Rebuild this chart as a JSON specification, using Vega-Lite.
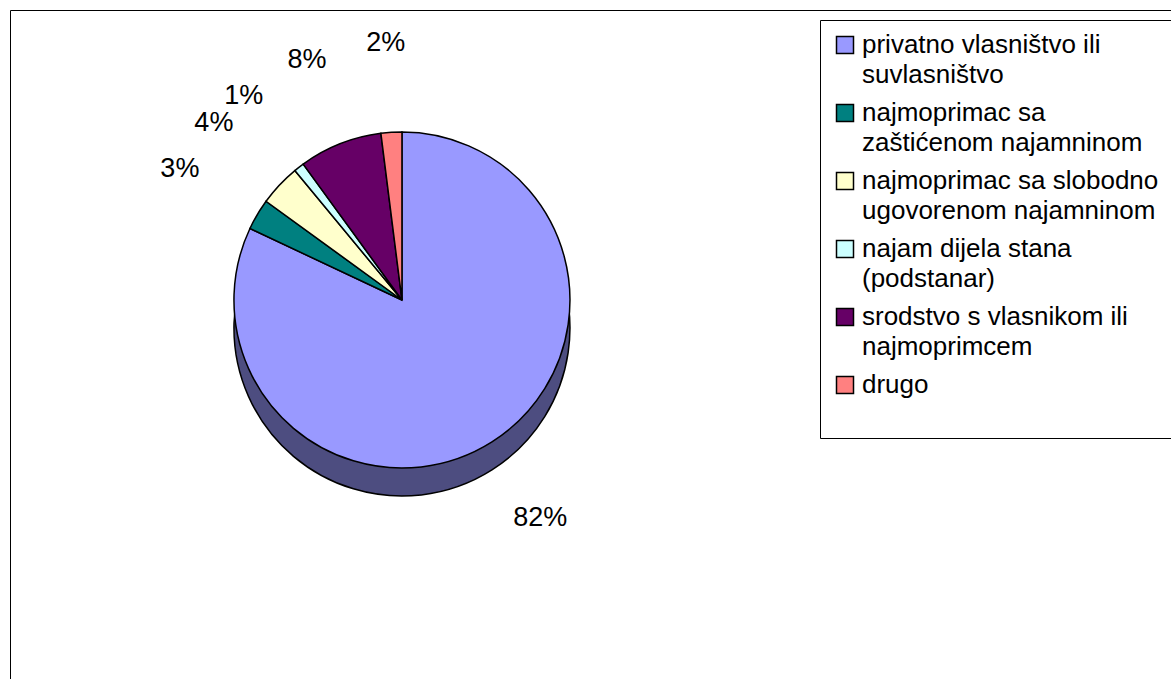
{
  "$schema": "https://vega.github.io/schema/vega-lite/v6.json",
  "width": 1161,
  "height": 669,
  "autosize": {"type": "none"},
  "padding": {"left": 10, "top": 10, "right": 0, "bottom": 0},
  "background": "white",
  "view": {"stroke": "black", "strokeWidth": 1, "fill": "white"},
  "config": {
    "view": {"stroke": "black", "strokeWidth": 1},
    "font": "Liberation Sans",
    "style": {"guide-label": {"lineHeight": 30}}
  },
  "data": {
    "values": [
      {"kategorija": "privatno vlasništvo ili suvlasništvo", "udio": 0.82, "rb": 1},
      {"kategorija": "najmoprimac sa zaštićenom najamninom", "udio": 0.03, "rb": 2},
      {"kategorija": "najmoprimac sa slobodno ugovorenom najamninom", "udio": 0.04, "rb": 3},
      {"kategorija": "najam dijela stana (podstanar)", "udio": 0.01, "rb": 4},
      {"kategorija": "srodstvo s vlasnikom ili najmoprimcem", "udio": 0.08, "rb": 5},
      {"kategorija": "drugo", "udio": 0.02, "rb": 6}
    ]
  },
  "encoding": {
    "theta": {"field": "udio", "type": "quantitative", "stack": true},
    "order": {"field": "rb", "type": "quantitative"}
  },
  "layer": [
    {
      "mark": {"type": "arc", "outerRadius": 168, "fill": "#4D4D80", "stroke": "black", "strokeWidth": 1.5,
               "x": {"expr": "width * 0.3376"}, "y": {"expr": "height * 0.4335 + 28"}}
    },
    {
      "mark": {"type": "arc", "outerRadius": 168, "stroke": "black", "strokeWidth": 1.5, "opacity": 1,
               "x": {"expr": "width * 0.3376"}, "y": {"expr": "height * 0.4335"}},
      "encoding": {
        "color": {
          "field": "kategorija",
          "type": "nominal",
          "sort": null,
          "scale": {
            "domain": [
              "privatno vlasništvo ili suvlasništvo",
              "najmoprimac sa zaštićenom najamninom",
              "najmoprimac sa slobodno ugovorenom najamninom",
              "najam dijela stana (podstanar)",
              "srodstvo s vlasnikom ili najmoprimcem",
              "drugo"
            ],
            "range": ["#9999FF", "#008080", "#FFFFCC", "#CCFFFF", "#660066", "#FF8080"]
          },
          "legend": {
            "title": " ",
            "titleOrient": "bottom",
            "titleFontSize": 20,
            "titlePadding": 8,
            "orient": "none",
            "legendX": 810,
            "legendY": 10,
            "strokeColor": "black",
            "fillColor": "white",
            "padding": 12,
            "symbolType": "square",
            "symbolSize": 289,
            "symbolStrokeColor": "black",
            "symbolStrokeWidth": 1.5,
            "symbolOpacity": 1,
            "labelFont": "Liberation Sans",
            "labelFontSize": 26,
            "labelColor": "black",
            "labelLimit": 0,
            "labelOffset": 4,
            "rowPadding": 12,
            "labelExpr": "datum.label == 'privatno vlasništvo ili suvlasništvo' ? ['privatno vlasništvo ili', 'suvlasništvo'] : datum.label == 'najmoprimac sa zaštićenom najamninom' ? ['najmoprimac sa', 'zaštićenom najamninom'] : datum.label == 'najmoprimac sa slobodno ugovorenom najamninom' ? ['najmoprimac sa slobodno', 'ugovorenom najamninom'] : datum.label == 'najam dijela stana (podstanar)' ? ['najam dijela stana', '(podstanar)'] : datum.label == 'srodstvo s vlasnikom ili najmoprimcem' ? ['srodstvo s vlasnikom ili', 'najmoprimcem'] : datum.label"
          }
        }
      }
    },
    {
      "mark": {"type": "text", "radius": 258, "fontSize": 27, "font": "Liberation Sans", "color": "black",
               "x": {"expr": "width * 0.3376"}, "y": {"expr": "height * 0.4335"}},
      "encoding": {
        "text": {"field": "udio", "type": "quantitative", "format": ".0%"}
      }
    }
  ]
}
